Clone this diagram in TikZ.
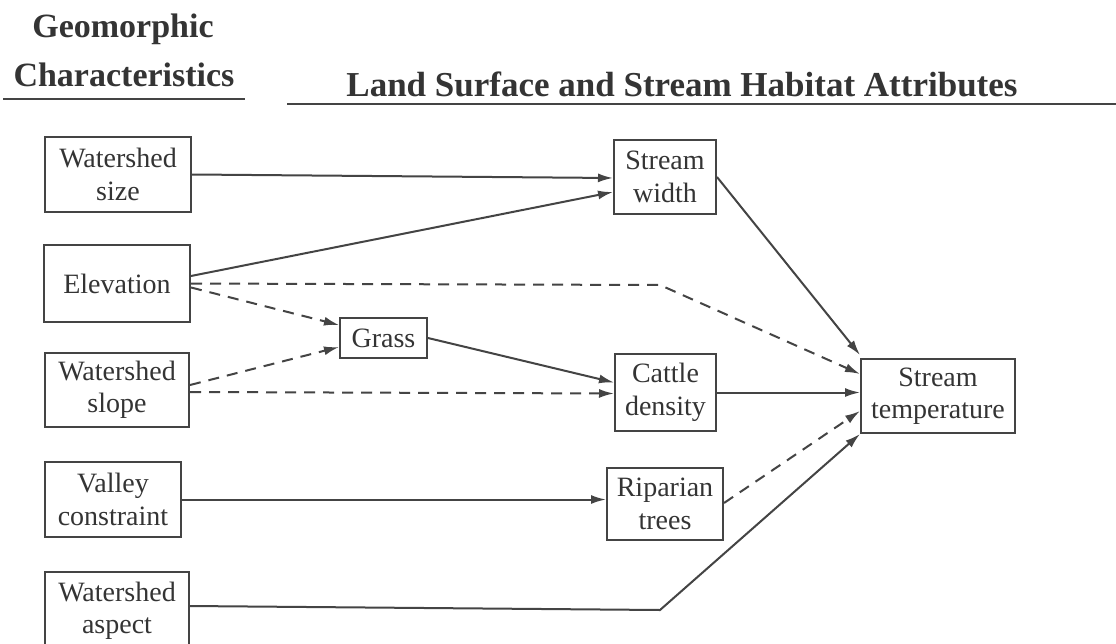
\documentclass[tikz,border=0pt]{standalone}
\usepackage{fontspec}
\setmainfont{Liberation Serif}
\usetikzlibrary{arrows.meta}
\definecolor{ink}{HTML}{343434}
\definecolor{ln}{HTML}{444444}
\tikzset{
  box/.style={draw=ln, line width=2pt, rectangle, inner sep=0pt, align=center,
    font=\fontsize{28}{32.5}\selectfont, text=ink},
  title/.style={font=\fontsize{34}{48}\selectfont\bfseries, text=ink, inner sep=0pt, align=center},
  conn/.style={draw=ln, line width=2pt, -{Latex[length=15pt,width=9pt]}},
  dconn/.style={conn, dash pattern=on 11pt off 8pt},
  rule/.style={draw=ln, line width=2.4pt}
}
\begin{document}
\begin{tikzpicture}[x=1pt,y=-1pt]
\useasboundingbox[fill=white] (0,0) rectangle (1116,643);
% titles
\node[title, anchor=base] (t1a) at (123,37) {Geomorphic};
\node[title, anchor=base] (t1b) at (124,86) {Characteristics};
\node[title, anchor=base, font=\fontsize{35}{48}\selectfont\bfseries] (t2) at (682,96) {Land Surface and Stream Habitat Attributes};
\coordinate (u1a) at (3,99); \coordinate (u1b) at (245,99);
\coordinate (u2a) at (287,104); \coordinate (u2b) at (1116,104);
\draw[rule] (u1a) -- (u1b);
\draw[rule] (u2a) -- (u2b);
% left column
\node[box, minimum width=146pt, minimum height=75pt] (ws) at (118,174.5) {Watershed\\size};
\node[box, minimum width=146pt, minimum height=77pt] (el) at (117,283.5) {Elevation};
\node[box, minimum width=144pt, minimum height=74pt] (sl) at (117,390) {Watershed\\slope};
\node[box, minimum width=136pt, minimum height=75pt] (vc) at (113,499.5) {Valley\\constraint};
\node[box, minimum width=144pt, minimum height=78pt] (wa) at (117,611) {Watershed\\aspect};
% middle
\node[box, minimum width=87pt, minimum height=40pt] (gr) at (383.5,338) {Grass};
\node[box, minimum width=102pt, minimum height=74pt] (sw) at (665,177) {Stream\\width};
\node[box, minimum width=101pt, minimum height=77pt] (cd) at (665.5,392.5) {Cattle\\density};
\node[box, minimum width=116pt, minimum height=72pt] (rt) at (665,504) {Riparian\\trees};
% right
\node[box, minimum width=154pt, minimum height=74pt] (st) at (938,396) {Stream\\temperature};
% bend points
\coordinate (b1) at (660,285);
\coordinate (b2) at (660,610);
% connectors
\draw[conn] (ws.east) -- ([yshift=-1pt]sw.west);
\draw[conn] ([yshift=7.5pt]el.east) -- ([yshift=-15pt]sw.west);
\draw[dconn] (el.east) -- (b1) -- ([yshift=22pt]st.west);
\draw[dconn] ([yshift=-4pt]el.east) -- ([yshift=13pt]gr.west);
\draw[dconn] ([yshift=5pt]sl.east) -- ([yshift=-9pt]gr.west);
\draw[dconn] ([yshift=-2pt]sl.east) -- ([yshift=-1pt]cd.west);
\draw[conn] (gr.east) -- ([yshift=10pt]cd.west);
\draw[conn] (sw.east) -- ([yshift=3pt]st.north west);
\draw[conn] (cd.east) -- (cd.east -| st.west);
\draw[dconn] ([yshift=1pt]rt.east) -- ([yshift=-15pt]st.west);
\draw[conn] (vc.east) -- (vc.east -| rt.west);
\draw[conn] ([yshift=5pt]wa.east) -- (b2) -- (st.south west);
\end{tikzpicture}
\end{document}
